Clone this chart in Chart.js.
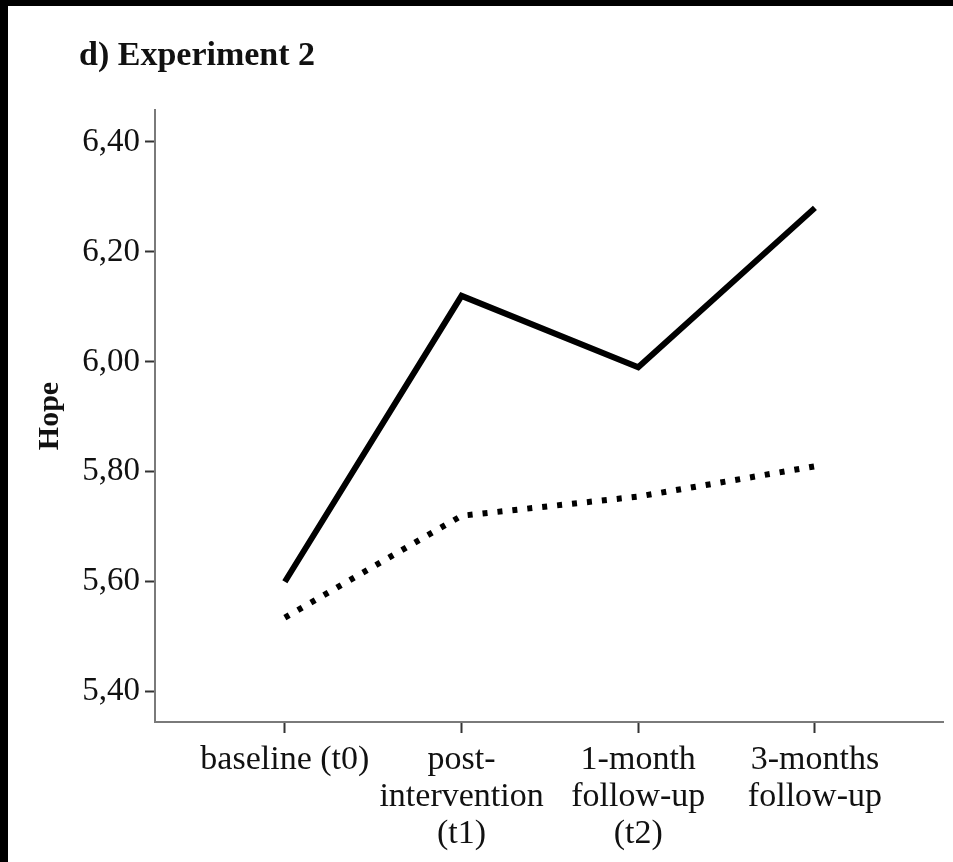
<!DOCTYPE html>
<html>
<head>
<meta charset="utf-8">
<script src="https://cdn.jsdelivr.net/npm/chart.js@4.4.1/dist/chart.umd.min.js"></script>
<style>
  html, body { margin: 0; padding: 0; background: #000; }
  #wrap { position: absolute; left: 8px; top: 6px; width: 945px; height: 856px; background: #fff; }
  canvas { display: block; }
</style>
</head>
<body>
<div id="wrap"><canvas id="chart" width="945" height="856"></canvas></div>
<script>
// Measurement occasions (x axis categories)
const timepoints = [
  ['baseline (t0)'],
  ['post-', 'intervention', '(t1)'],
  ['1-month', 'follow-up', '(t2)'],
  ['3-months', 'follow-up']
];
// Mean hope scores per group
const interventionGroup = [5.60, 6.12, 5.99, 6.28];
const controlGroup = [5.535, 5.72, 5.755, 5.81];
// Y axis tick values
const hopeTicks = [5.40, 5.60, 5.80, 6.00, 6.20, 6.40];

const axisGrey = '#7a7a7a';
const serif = '"Liberation Serif", "Times New Roman", serif';

const titlePlugin = {
  id: 'panelTitle',
  afterDraw(chart) {
    const ctx = chart.ctx;
    ctx.save();
    ctx.fillStyle = '#111';
    ctx.font = 'bold 34px ' + serif;
    ctx.textBaseline = 'middle';
    ctx.textAlign = 'left';
    ctx.fillText('d) Experiment 2', 71, 50);
    ctx.restore();
  }
};

new Chart(document.getElementById('chart'), {
  type: 'line',
  data: {
    datasets: [
      {
        label: 'intervention',
        data: interventionGroup.map((v, i) => ({ x: i, y: v })),
        borderColor: '#000',
        borderWidth: 6,
        borderJoinStyle: 'miter',
        borderCapStyle: 'butt',
        pointRadius: 0,
        tension: 0
      },
      {
        label: 'control',
        data: controlGroup.map((v, i) => ({ x: i, y: v })),
        borderColor: '#000',
        borderWidth: 6,
        borderDash: [5, 10],
        borderCapStyle: 'butt',
        pointRadius: 0,
        tension: 0
      }
    ]
  },
  options: {
    responsive: false,
    animation: false,
    layout: { padding: { left: 20, right: 10, top: 104, bottom: 0 } },
    plugins: {
      legend: { display: false },
      tooltip: { enabled: false },
      title: { display: false }
    },
    scales: {
      x: {
        type: 'linear',
        min: -0.735,
        max: 3.725,
        afterBuildTicks(scale) {
          scale.ticks = timepoints.map((_, i) => ({ value: i }));
        },
        afterFit(scale) { scale.height = 140; },
        border: { display: true, color: axisGrey, width: 2 },
        grid: {
          drawOnChartArea: false,
          drawTicks: true,
          tickLength: 11,
          tickColor: '#333',
          tickWidth: 2
        },
        ticks: {
          color: '#111',
          font: { family: serif, size: 34, lineHeight: 1.1 },
          padding: 8,
          maxRotation: 0,
          autoSkip: false,
          callback: (v) => timepoints[v]
        }
      },
      y: {
        min: 5.345,
        max: 6.458,
        afterBuildTicks(scale) {
          scale.ticks = hopeTicks.map(v => ({ value: v }));
        },
        afterFit(scale) { scale.width = 127; },
        border: { display: true, color: axisGrey, width: 2 },
        grid: {
          drawOnChartArea: false,
          drawTicks: true,
          tickLength: 10,
          tickColor: '#333',
          tickWidth: 2
        },
        ticks: {
          color: '#111',
          font: { family: serif, size: 33 },
          padding: 5,
          callback: (v) => v.toFixed(2).replace('.', ',')
        },
        title: {
          display: true,
          text: 'Hope',
          color: '#111',
          font: { family: serif, size: 30, weight: 'bold' }
        }
      }
    }
  },
  plugins: [titlePlugin]
});
</script>
</body>
</html>
